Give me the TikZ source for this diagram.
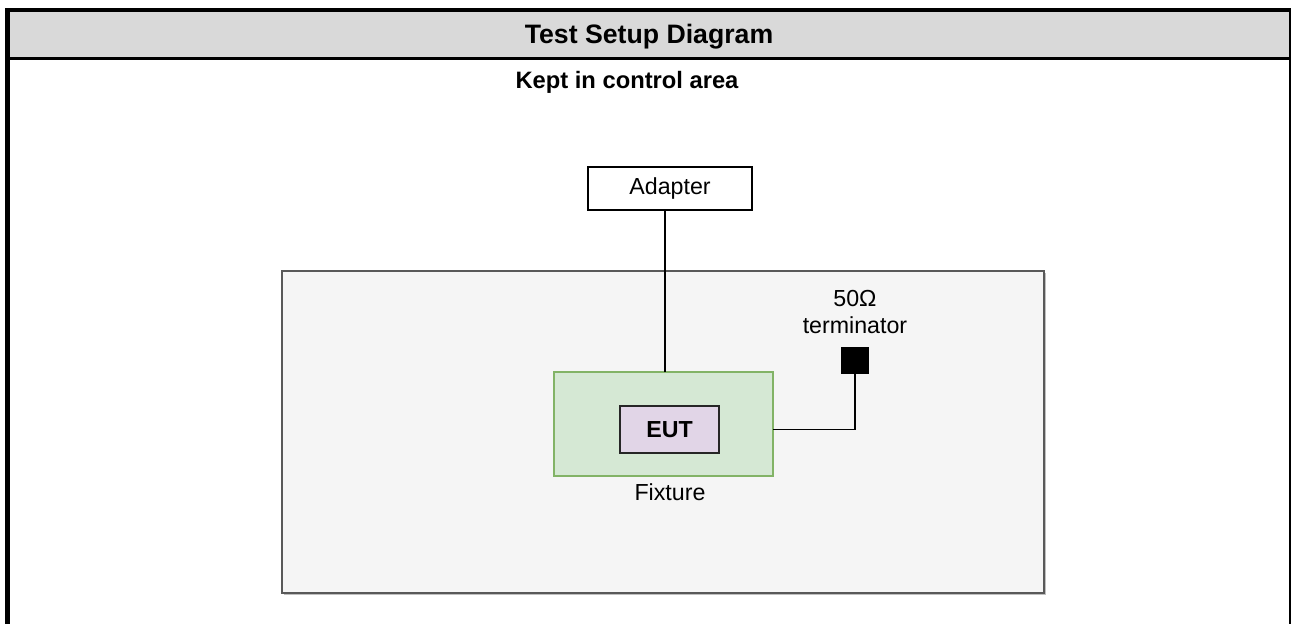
\documentclass[tikz,border=0pt]{standalone}
\usepackage{fontspec}
\setmainfont{Liberation Sans}
\usepackage{xcolor}
\usepackage{tikz}

\definecolor{headgray}{RGB}{217,217,217}
\definecolor{areagray}{RGB}{245,245,245}
\definecolor{areaedge}{RGB}{89,89,89}
\definecolor{fixfill}{RGB}{213,232,212}
\definecolor{fixedge}{RGB}{130,179,102}
\definecolor{eutfill}{RGB}{225,213,231}

\begin{document}
\begin{tikzpicture}[x=0.75pt,y=0.75pt,yscale=-1,xscale=1,
	txt/.style={inner sep=0.75pt,font=\fontsize{17.4}{20.5}\selectfont},
	boldtxt/.style={inner sep=0.75pt,font=\bfseries\fontsize{17.4}{20.5}\selectfont},
	box/.style={draw,line width=1.1pt,inner sep=0pt,outer sep=0pt},
	wire/.style={line width=1.1pt}]
	
	\useasboundingbox (0,0) rectangle (1291,624);
	
	%Shape: Header band
	\fill [headgray] (10,12) rectangle (1290,58);
	\fill [black] (5,8) rectangle (1291,12);
	\fill [black] (5,8) rectangle (10,624);
	\fill [black] (10,57) rectangle (1290,60);
	\fill [black] (1289,12) rectangle (1290.5,624);
	
	%Shape: Rectangle [control area]
	\fill [black!25] (284,273) rectangle (1046,595);
	\node [box, draw=areaedge, fill=areagray, minimum width=571.5pt, minimum height=241.5pt] (area) at (663,432) {};
	
	%Shape: Rectangle [adapter]
	\node [box, fill=white, minimum width=123pt, minimum height=32.25pt, txt] (adapter) at (670,188.5) {Adapter};
	%Shape: Rectangle [fixture]
	\node [box, draw=fixedge, fill=fixfill, minimum width=164.25pt, minimum height=78pt] (fixture) at (663.5,424) {};
	%Shape: Rectangle [eut]
	\node [box, draw=black!85, fill=eutfill, minimum width=74.25pt, minimum height=35.25pt, boldtxt] (eut) at (669.5,429.5) {EUT};
	%Shape: Square [terminator]
	\node [box, fill=black, minimum width=19.5pt, minimum height=18.75pt] (term) at (855,360.5) {};
	
	%Straight Lines
	\draw [wire] (fixture.north -| 665,0) -- (adapter.south -| 665,0);
	\draw [wire] (fixture.east |- eut.center) -| (term.south);
	
	% Text Node
	\node [boldtxt, font=\bfseries\fontsize{20}{24}\selectfont] (title) at (649,37) {Test Setup Diagram};
	% Text Node
	\node [boldtxt, font=\bfseries\fontsize{17.8}{21}\selectfont] (kept) at (627,82) {Kept in control area};
	% Text Node
	\node [txt, align=center] (termlabel) at (855,312) {50Ω\\terminator};
	% Text Node
	\node [txt] (fixlabel) at (670,492) {Fixture};
\end{tikzpicture}
\end{document}
